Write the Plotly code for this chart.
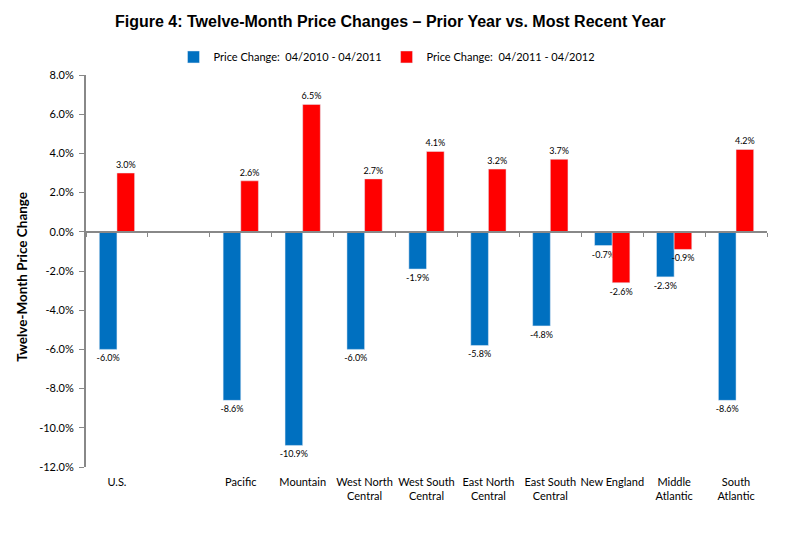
import plotly.graph_objects as go

# Regioes do grafico (a categoria vazia cria o espaco depois do U.S.)
regioes = ["U.S.", " ", "Pacific", "Mountain", "West North<br>Central", "West South<br>Central",
           "East North<br>Central", "East South<br>Central", "New England", "Middle<br>Atlantic",
           "South<br>Atlantic"]
variacao_2010_2011 = [-6.0, None, -8.6, -10.9, -6.0, -1.9, -5.8, -4.8, -0.7, -2.3, -8.6]
variacao_2011_2012 = [3.0, None, 2.6, 6.5, 2.7, 4.1, 3.2, 3.7, -2.6, -0.9, 4.2]
nome_serie1 = "Price Change:  04/2010 - 04/2011"
nome_serie2 = "Price Change:  04/2011 - 04/2012"
y_ticks = [-12, -10, -8, -6, -4, -2, 0, 2, 4, 6, 8]

fonte = "Lato, Carlito, Calibri, sans-serif"
fonte_titulo = "Liberation Sans Narrow, Arial Narrow, Liberation Sans, Arial"
faixa_x = [-0.5, len(regioes) - 0.5]

fig = go.Figure()
fig.add_trace(go.Bar(x=regioes, y=variacao_2010_2011, name=nome_serie1, marker_color="#0070C0",
                     texttemplate="%{y:.1f}%", textposition="outside", cliponaxis=False,
                     constraintext="none",
                     textfont={"size": 9, "color": "black", "family": fonte}))
fig.add_trace(go.Bar(x=regioes, y=variacao_2011_2012, name=nome_serie2, marker_color="#FF0000",
                     texttemplate="%{y:.1f}%", textposition="outside", cliponaxis=False,
                     constraintext="none",
                     textfont={"size": 9, "color": "black", "family": fonte}))

# a pagina tem margem de 8px no body, por isso as margens sao 8px menores
fig.update_layout(
    width=793, height=533,
    margin={"l": 78, "r": 34, "t": 67, "b": 74},
    plot_bgcolor="white", paper_bgcolor="white",
    barmode="group", bargap=0.43, bargroupgap=0,
    title={"text": "<b>Figure 4: Twelve-Month Price Changes \u2013 Prior Year vs. Most Recent Year</b>",
           "x": 0.482, "xanchor": "center", "y": 0.974, "yanchor": "middle",
           "font": {"size": 16, "family": fonte_titulo, "color": "black"}},
    legend={"orientation": "h", "x": 0.442, "xanchor": "center", "y": 1.046, "yanchor": "middle",
            "font": {"size": 11, "family": fonte, "color": "black"}, "itemwidth": 30,
            "traceorder": "normal"},
    font={"family": fonte, "color": "black"},
)

# titulo do eixo y como anotacao para controlar a posicao
fig.add_annotation(text="<b>Twelve-Month Price Change</b>", xref="paper", yref="paper",
                   x=-0.094, y=0.485, xanchor="center", yanchor="middle", textangle=-90,
                   showarrow=False, font={"size": 13.5, "family": fonte, "color": "black"})

fig.update_yaxes(range=[-12, 8], tickvals=y_ticks, ticktext=[f"{v:.1f}%" for v in y_ticks],
                 showgrid=False, showline=True, linecolor="#888888", linewidth=2,
                 ticks="outside", ticklen=5, tickcolor="#888888", tickwidth=1,
                 tickfont={"size": 11, "family": fonte}, zeroline=False, ticklabelstandoff=3)
fig.update_xaxes(showgrid=False, showline=False, ticks="", type="category", range=faixa_x,
                 categoryorder="array", categoryarray=regioes,
                 tickfont={"size": 11, "family": fonte}, ticklabelstandoff=7)

# eixo de categorias desenhado na linha do zero, com marcas nas fronteiras
fig.update_layout(xaxis2={"matches": "x", "overlaying": "x", "anchor": "free", "position": 0.6,
                          "type": "category", "categoryorder": "array", "categoryarray": regioes,
                          "range": faixa_x,
                          "showline": True, "linecolor": "#888888", "linewidth": 2,
                          "ticks": "outside", "tickson": "boundaries", "ticklen": 4,
                          "tickcolor": "#888888", "showticklabels": False, "showgrid": False})
fig.add_trace(go.Scatter(x=regioes, y=[0] * len(regioes), xaxis="x2", mode="markers",
                         marker={"opacity": 0}, showlegend=False, hoverinfo="skip"))

fig.write_html("out.html")
